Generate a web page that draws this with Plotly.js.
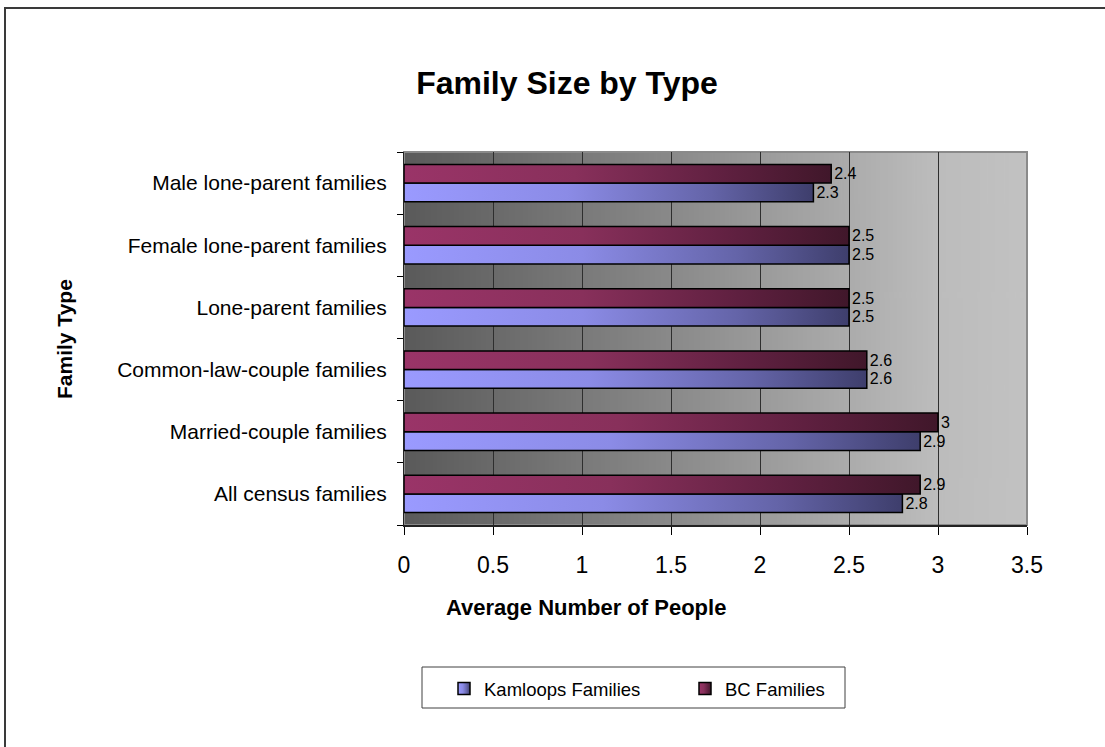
<!DOCTYPE html>
<html>
<head>
<meta charset="utf-8">
<script src="https://cdn.plot.ly/plotly-3.0.1.min.js"></script>
<style>
  html, body { margin: 0; padding: 0; background: #ffffff; }
  #chart { width: 1105px; height: 747px; }
</style>
</head>
<body>
<div id="chart"></div>
<script>
// ---- data (bottom-to-top category order, as in the source sheet) ----
const categories = [
  "All census families",
  "Married-couple families",
  "Common-law-couple families",
  "Lone-parent families",
  "Female lone-parent families",
  "Male lone-parent families"
];
const kamloopsFamilies = [2.8, 2.9, 2.6, 2.5, 2.5, 2.3];
const bcFamilies       = [2.9, 3.0, 2.6, 2.5, 2.5, 2.4];
const seriesNames = ["Kamloops Families", "BC Families"];
const xTickValues = [0, 0.5, 1, 1.5, 2, 2.5, 3, 3.5];

// ---- geometry helpers ----
const W = 1105, H = 747;
const M = { l: 404, r: 78, t: 152, b: 222 };
const PW = W - M.l - M.r, PH = H - M.t - M.b;
const px = x => (x - M.l) / PW;
const py = y => (H - M.b - y) / PH;

const FONT = "Liberation Sans, Arial, Helvetica, sans-serif";

// plot-area background gradient (dark left -> light right)
function bgGradientURI() {
  const c = document.createElement("canvas");
  c.width = 512; c.height = 4;
  const ctx = c.getContext("2d");
  const g = ctx.createLinearGradient(0, 0, 512, 0);
  g.addColorStop(0, "#5a5a5a");
  g.addColorStop(0.45, "#8c8c8c");
  g.addColorStop(0.85, "#bcbcbc");
  g.addColorStop(1, "#c2c2c2");
  ctx.fillStyle = g;
  ctx.fillRect(0, 0, 512, 4);
  return c.toDataURL("image/png");
}

const traces = [
  {
    type: "bar", orientation: "h",
    name: seriesNames[0],
    y: categories, x: kamloopsFamilies,
    marker: { color: "#7777cc", line: { color: "#000000", width: 1.5 } },
    text: kamloopsFamilies.map(String),
    textposition: "outside",
    constraintext: "none",
    textfont: { family: FONT, size: 16, color: "#000000" },
    cliponaxis: false,
    hoverinfo: "x+y+name"
  },
  {
    type: "bar", orientation: "h",
    name: seriesNames[1],
    y: categories, x: bcFamilies,
    marker: { color: "#7a2850", line: { color: "#000000", width: 1.5 } },
    text: bcFamilies.map(String),
    textposition: "outside",
    constraintext: "none",
    textfont: { family: FONT, size: 16, color: "#000000" },
    cliponaxis: false,
    hoverinfo: "x+y+name"
  }
];

const layout = {
  width: W, height: H,
  margin: M,
  paper_bgcolor: "#ffffff",
  plot_bgcolor: "rgba(0,0,0,0)",
  font: { family: FONT, color: "#000000" },
  barmode: "group",
  bargap: 0.40,
  bargroupgap: 0,
  showlegend: true,
  title: {
    text: "<b>Family Size by Type</b>",
    font: { family: FONT, size: 32, color: "#000000" },
    x: 567 / W, xanchor: "center", xref: "container",
    y: 1 - 83 / H, yanchor: "middle", yref: "container"
  },
  xaxis: {
    range: [0, 3.5],
    tickmode: "array", tickvals: xTickValues,
    ticktext: xTickValues.map(String),
    showgrid: true, gridcolor: "#2e2e2e", gridwidth: 1,
    zeroline: false,
    showline: true, linecolor: "#222222", linewidth: 2,
    ticks: "outside", ticklen: 8, tickcolor: "#000000", tickwidth: 1,
    tickfont: { family: FONT, size: 23, color: "#000000" },
    ticklabelstandoff: 10,
    automargin: false, fixedrange: true
  },
  yaxis: {
    type: "category",
    categoryorder: "array", categoryarray: categories,
    tickson: "boundaries",
    showgrid: false, zeroline: false,
    showline: true, linecolor: "#222222", linewidth: 1,
    ticks: "outside", ticklen: 6, tickcolor: "#000000", tickwidth: 1,
    tickfont: { family: FONT, size: 21, color: "#000000" },
    ticklabelstandoff: 12,
    automargin: false, fixedrange: true
  },
  legend: {
    orientation: "h",
    x: px(444), xanchor: "left",
    y: py(670), yanchor: "top",
    bgcolor: "rgba(0,0,0,0)", borderwidth: 0,
    font: { family: FONT, size: 18.5, color: "#000000" },
    entrywidthmode: "pixels", entrywidth: 196,
    traceorder: "normal"
  },
  images: [{
    source: bgGradientURI(),
    xref: "paper", yref: "paper",
    x: 0, y: 1, sizex: 1, sizey: 1,
    xanchor: "left", yanchor: "top",
    sizing: "stretch", layer: "below"
  }],
  shapes: [
    // plot area frame
    { type: "rect", xref: "paper", yref: "paper", x0: 0, x1: 1, y0: 0, y1: 1,
      line: { color: "#8a8a8a", width: 2 }, layer: "below" },
    // outer chart frame
    { type: "rect", xref: "paper", yref: "paper",
      x0: px(5), x1: px(1130), y0: py(780), y1: py(8),
      line: { color: "#3a3a3a", width: 2 } },
    // legend box
    { type: "rect", xref: "paper", yref: "paper",
      x0: px(422), x1: px(845), y0: py(708), y1: py(667),
      line: { color: "#404040", width: 1 }, fillcolor: "rgba(255,255,255,0)" }
  ],
  annotations: [
    { text: "<b>Average Number of People</b>", xref: "paper", yref: "paper",
      x: px(586), y: py(607), xanchor: "center", yanchor: "middle",
      showarrow: false, font: { family: FONT, size: 22, color: "#000000" } },
    { text: "<b>Family Type</b>", xref: "paper", yref: "paper",
      x: px(64), y: py(339), xanchor: "center", yanchor: "middle", textangle: -90,
      showarrow: false, font: { family: FONT, size: 21, color: "#000000" } }
  ]
};

const gradStops = [
  [["0", "#9a9aff"], ["0.4", "#8b8be6"], ["0.75", "#6464a8"], ["1", "#3e3e6c"]],
  [["0", "#9a3468"], ["0.4", "#88305b"], ["0.75", "#5f2040"], ["1", "#40172a"]]
];

function applyGradients(gd) {
  const svg = gd.querySelector("svg.main-svg");
  if (!svg) return;
  const NS = "http://www.w3.org/2000/svg";
  let defs = svg.querySelector("defs");
  if (!defs) { defs = document.createElementNS(NS, "defs"); svg.insertBefore(defs, svg.firstChild); }
  gradStops.forEach((stops, i) => {
    const id = "barGrad" + i;
    if (defs.querySelector("#" + id)) return;
    const lg = document.createElementNS(NS, "linearGradient");
    lg.setAttribute("id", id);
    lg.setAttribute("x1", "0"); lg.setAttribute("y1", "0");
    lg.setAttribute("x2", "1"); lg.setAttribute("y2", "0");
    stops.forEach(([o, c]) => {
      const s = document.createElementNS(NS, "stop");
      s.setAttribute("offset", o); s.setAttribute("stop-color", c);
      lg.appendChild(s);
    });
    defs.appendChild(lg);
  });
  gd.querySelectorAll(".barlayer .trace.bars").forEach((t, i) => {
    t.querySelectorAll(".point path").forEach(p => { p.style.fill = "url(#barGrad" + i + ")"; });
  });
  gd.querySelectorAll(".legend .traces").forEach((t, i) => {
    t.querySelectorAll(".legendpoints path").forEach(p => { p.style.fill = "url(#barGrad" + i + ")"; });
  });
}

const gd = document.getElementById("chart");
Plotly.newPlot(gd, traces, layout, { displayModeBar: false, staticPlot: true })
  .then(() => applyGradients(gd));
</script>
</body>
</html>
